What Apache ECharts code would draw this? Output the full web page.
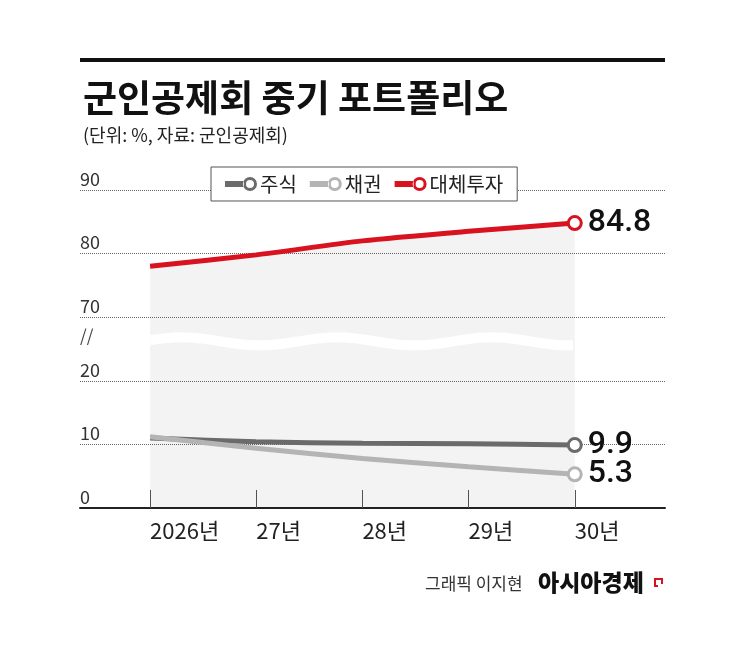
<!DOCTYPE html>
<html>
<head>
<meta charset="utf-8">
<script src="https://cdn.jsdelivr.net/npm/echarts@6/dist/echarts.min.js"></script>
<style>
  html, body { margin: 0; padding: 0; background: #fff; }
  #chart { width: 745px; height: 660px; }
</style>
</head>
<body>
<div id="chart"></div>
<script>
// 데이터
const years = [2026, 2027, 2028, 2029, 2030];
const yearLabels = ['2026년', '27년', '28년', '29년', '30년'];
const seriesNames = ['주식', '채권', '대체투자'];
const stockValues = [11.0, 10.4, 10.2, 10.1, 9.9];
const bondValues = [11.2, 9.4, 7.8, 6.5, 5.3];
const altValues = [78.0, 79.8, 82.0, 83.5, 84.8];
const yTicks = [0, 10, 20, 70, 80, 90];
const breakEdges = [20, 70];

const colors = ['#6b6b6b', '#b4b4b4', '#d9121f'];
const FONT = '"Noto Sans CJK KR", "Noto Sans", sans-serif';
const last = years.length - 1;

let myChart = echarts.init(document.getElementById('chart'));

// 범례 아이콘: 굵은 선 + 속이 빈 원
const legendIcon = 'path://M0,4L19,4L19,10L0,10Z' +
  'M32,7A7,7 0 1,0 18,7A7,7 0 1,0 32,7Z' +
  'M29,7A4,4 0 1,1 21,7A4,4 0 1,1 29,7Z';

const dotted = { color: '#666', type: 'dotted', width: 1 };

function makeSeries(i, values) {
  const s = {
    name: seriesNames[i],
    type: 'line',
    data: values.map((v, k) => [years[k], v]),
    smooth: 0.25,
    z: i === 2 ? 1 : 3,
    color: colors[i],
    lineStyle: { width: 5, color: colors[i] },
    symbol: 'circle',
    symbolSize: (v, p) => (p.dataIndex === last ? 13 : 0),
    itemStyle: { color: '#fff', borderColor: colors[i], borderWidth: 3 },
    label: {
      show: true,
      position: 'right',
      distance: 5,
      formatter: p => (p.dataIndex === last ? p.value[1].toFixed(1) : ''),
      fontFamily: 'Roboto, "Noto Sans", sans-serif',
      fontSize: 32,
      fontWeight: 500,
      color: '#111'
    }
  };
  if (i === 2) {
    s.areaStyle = { color: 'rgba(0,0,0,0.065)', origin: 'start' };
    // 축 생략 경계(20, 70)의 점선
    s.markLine = {
      silent: true,
      symbol: 'none',
      label: { show: false },
      lineStyle: dotted,
      data: breakEdges.map(v => ({ yAxis: v }))
    };
  }
  return s;
}

option = {
  backgroundColor: '#fff',
  textStyle: { fontFamily: FONT },
  title: {
    text: '군인공제회 중기 포트폴리오',
    subtext: '(단위: %, 자료: 군인공제회)',
    left: 78,
    top: 74,
    itemGap: 10,
    textStyle: { fontFamily: FONT, fontSize: 37, fontWeight: 'bold', color: '#111' },
    subtextStyle: { fontFamily: FONT, fontSize: 18, color: '#222' }
  },
  legend: {
    left: 211,
    top: 167,
    padding: [7, 14, 7, 14],
    backgroundColor: '#fff',
    borderColor: '#555',
    borderWidth: 1,
    borderRadius: 0,
    itemWidth: 32,
    itemHeight: 14,
    itemGap: 13,
    data: seriesNames.map((n, i) => ({
      name: n,
      icon: legendIcon,
      itemStyle: { color: colors[i], borderWidth: 0 }
    })),
    textStyle: { fontFamily: FONT, fontSize: 20, color: '#222', padding: [0, 0, 0, -2] }
  },
  grid: { left: 80, right: 80, top: 190, bottom: 152 },
  xAxis: {
    type: 'value',
    min: 2025.34,
    max: 2030.85,
    axisLine: { show: true, lineStyle: { color: '#222', width: 2 } },
    axisTick: { show: true, inside: true, length: 18, customValues: years, lineStyle: { color: '#555', width: 1 } },
    axisLabel: {
      customValues: years,
      formatter: v => yearLabels[years.indexOf(Math.round(v))],
      align: 'left',
      margin: 12,
      fontFamily: FONT,
      fontSize: 22,
      color: '#222'
    },
    splitLine: { show: false }
  },
  yAxis: {
    type: 'value',
    min: 0,
    max: 90,
    interval: 10,
    breaks: [{ start: breakEdges[0], end: breakEdges[1], gap: 10 }],
    breakArea: { show: false },
    axisLine: { show: false },
    axisTick: { show: false },
    axisLabel: {
      inside: true,
      margin: 0,
      align: 'left',
      verticalAlign: 'bottom',
      padding: [0, 0, 2, 0],
      formatter: v => (yTicks.indexOf(v) >= 0 ? String(v) : ''),
      fontFamily: FONT,
      fontSize: 18,
      color: '#333'
    },
    splitLine: { show: true, lineStyle: dotted }
  },
  graphic: [
    { type: 'rect', left: 80, top: 58, shape: { width: 585, height: 4 }, style: { fill: '#111' } },
    {
      type: 'text', left: 425, top: 575,
      style: { text: '그래픽 이지현', fontFamily: FONT, fontSize: 17, fill: '#333' }
    },
    {
      type: 'text', left: 538, top: 571,
      style: { text: '아시아경제', fontFamily: FONT, fontSize: 23, fontWeight: 900, fill: '#111' }
    },
    {
      type: 'polyline', shape: { points: [[658, 586], [655, 586], [655, 579], [662, 579], [662, 584]] },
      style: { stroke: '#d9121f', lineWidth: 2, fill: 'none' }
    }
  ],
  series: [
    makeSeries(0, stockValues),
    makeSeries(1, bondValues),
    makeSeries(2, altValues)
  ]
};

myChart.setOption(option);

// 축 생략 표시(물결)와 '//' 위치 계산
const x0 = myChart.convertToPixel({ xAxisIndex: 0 }, years[0]);
const x1 = myChart.convertToPixel({ xAxisIndex: 0 }, years[last]);
const y20 = myChart.convertToPixel({ yAxisIndex: 0 }, breakEdges[0]);
const y70 = myChart.convertToPixel({ yAxisIndex: 0 }, breakEdges[1]);
const cy = y70 + (y20 - y70) * 0.38;
const step = (x1 - x0) / 4;
const wavePts = [];
for (let x = x0; x <= x1 + 0.1; x += 3) {
  wavePts.push([x, cy - 4 * Math.cos(2 * Math.PI * (x - (x0 + 1.76 * step)) / (1.46 * step))]);
}
myChart.setOption({
  graphic: [
    {
      id: 'wave', type: 'polyline', z: 10,
      shape: { points: wavePts },
      style: { stroke: '#fff', lineWidth: 10, fill: 'none' }
    },
    {
      id: 'breakMark', type: 'text', z: 10, left: 80, top: cy - 14,
      style: { text: '//', fontFamily: FONT, fontSize: 17, fill: '#444' }
    }
  ]
});
</script>
</body>
</html>
